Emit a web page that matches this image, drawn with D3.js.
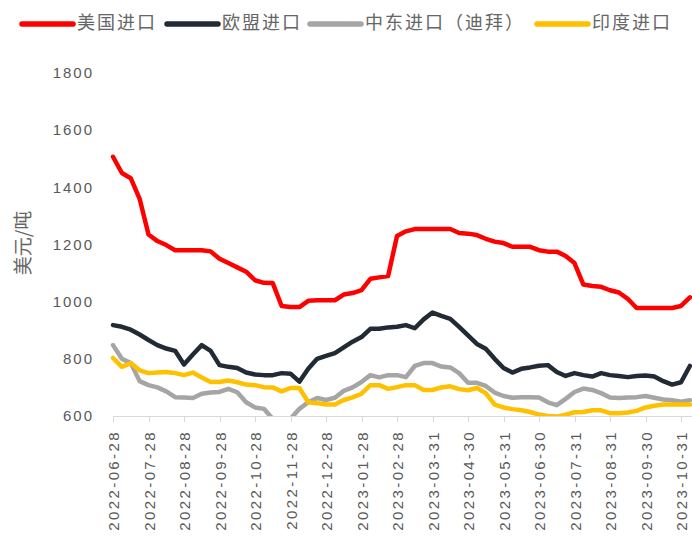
<!DOCTYPE html>
<html><head><meta charset="utf-8">
<script src="https://cdn.jsdelivr.net/npm/d3@7"></script>
<style>body{margin:0;background:#fff}svg{display:block}</style>
</head><body>
<svg id="c" width="692" height="536"></svg>
<script>
// ---- data ----
const tickLabels = ["2022-06-28","2022-07-28","2022-08-28","2022-09-28","2022-10-28","2022-11-28","2022-12-28",
  "2023-01-28","2023-02-28","2023-03-31","2023-04-30","2023-05-31","2023-06-30","2023-07-31","2023-08-31","2023-09-30","2023-10-31"];
const seriesNames = ["美国进口","欧盟进口","中东进口（迪拜）","印度进口"];
const yTicks = [600,800,1000,1200,1400,1600,1800];
// weekly samples (4 per month), starting 2022-06-28
const usImport = [1507,1450,1432,1360,1235,1212,1198,1180,1180,1180,1180,1176,1150,1135,1120,1105,1075,1066,1065,985,
  981,981,1003,1005,1005,1005,1025,1030,1040,1080,1085,1090,1230,1246,1254,1254,1254,1254,1254,1240,
  1238,1233,1220,1210,1205,1192,1192,1192,1180,1175,1175,1160,1135,1060,1055,1052,1040,1032,1010,978,
  978,978,978,978,985,1015];
const euImport = [918,912,902,885,866,848,836,828,780,815,848,828,778,772,768,752,745,743,743,750,
  748,720,765,800,810,820,840,860,876,905,905,910,912,918,907,938,962,950,940,912,
  882,852,835,800,768,752,765,770,776,778,754,740,750,743,738,750,743,740,736,740,
  742,738,722,710,718,775];
const meImport = [848,800,785,722,708,700,686,666,665,663,678,682,684,695,683,648,630,625,590,580,
  590,625,648,663,656,664,688,700,719,743,735,743,743,736,775,785,785,773,770,750,
  716,716,705,682,670,664,666,666,665,648,638,660,684,696,691,680,665,663,665,666,
  670,664,658,655,650,655];
const inImport = [803,772,785,760,750,752,754,750,743,752,735,719,719,724,718,710,708,701,700,686,
  698,698,648,645,640,640,656,665,678,708,708,695,701,708,708,691,691,700,704,694,
  690,698,680,640,630,624,620,614,605,600,598,605,613,614,620,620,610,610,612,618,
  630,636,640,640,640,640];
const colors = ["#FF0000","#222A35","#A5A5A5","#FFC000"];
const samplesPerMonth = 4;

// ---- chart ----
const svg = d3.select("#c");
const x = d3.scaleLinear().domain([0, tickLabels.length - 1]).range([113, 681]);
const y = d3.scaleLinear().domain([600, 1800]).range([416, 73]);
const txt = "#595959";
const numFont = "'Liberation Sans', Arial, sans-serif";
const cjkFont = "'Noto Sans CJK SC', sans-serif";

svg.append("defs").append("clipPath").attr("id","clip")
  .append("rect").attr("x",100).attr("y",60).attr("width",592).attr("height",356);

// y tick labels
svg.append("g").selectAll("text").data(yTicks).join("text")
  .attr("x", 94).attr("y", d => y(d)).attr("dy","0.35em")
  .attr("text-anchor","end").attr("fill",txt)
  .style("font-family",numFont).style("font-size","15px").style("letter-spacing","2px")
  .text(d => d);

// y title
svg.append("text").attr("transform","translate(23,243) rotate(-90)")
  .attr("text-anchor","middle").attr("dy","0.35em").attr("fill","#666")
  .style("font-family",cjkFont).style("font-size","19px").text("美元/吨");

// x axis
svg.append("line").attr("x1",113).attr("x2",692).attr("y1",416.5).attr("y2",416.5)
  .attr("stroke","#D9D9D9").attr("stroke-width",1);
svg.append("g").selectAll("line").data(tickLabels).join("line")
  .attr("x1",(d,i)=>Math.round(x(i))+0.5).attr("x2",(d,i)=>Math.round(x(i))+0.5)
  .attr("y1",416).attr("y2",422).attr("stroke","#D9D9D9");
svg.append("g").selectAll("text").data(tickLabels).join("text")
  .attr("transform",(d,i)=>`translate(${x(i)+1},${430}) rotate(-90)`)
  .attr("text-anchor","end").attr("dy","0.35em").attr("fill",txt)
  .style("font-family",numFont).style("font-size","15px").style("letter-spacing","2.4px")
  .text(d => d);

// lines
const series = [usImport, euImport, meImport, inImport];
const line = d3.line().x((d,i) => x(i / samplesPerMonth)).y(d => y(d));
const g = svg.append("g").attr("clip-path","url(#clip)");
[2,3,1,0].forEach(k => {
  g.append("path").datum(series[k]).attr("d", line)
    .attr("fill","none").attr("stroke",colors[k]).attr("stroke-width",4.5)
    .attr("stroke-linejoin","round").attr("stroke-linecap","round");
});

// legend
const legX = [22, 167, 310, 537];
const lg = svg.append("g");
seriesNames.forEach((n,k) => {
  lg.append("line").attr("x1",legX[k]).attr("x2",legX[k]+51).attr("y1",24).attr("y2",24)
    .attr("stroke",colors[k]).attr("stroke-width",5.5).attr("stroke-linecap","round");
  lg.append("text").attr("x",legX[k]+55).attr("y",23).attr("dy","0.35em").attr("fill","#666")
    .style("font-family",cjkFont).style("font-size","18px").style("letter-spacing","2px").text(n);
});
</script>
</body></html>
